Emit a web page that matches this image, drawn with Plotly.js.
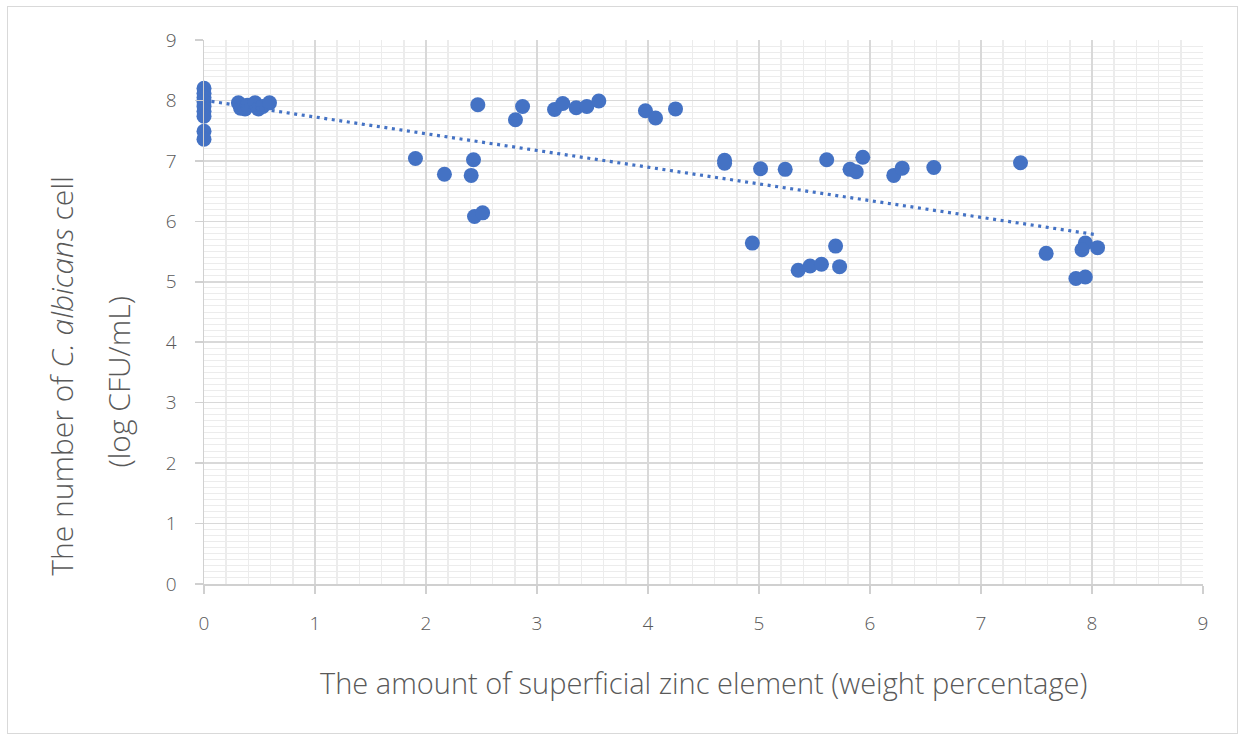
<!DOCTYPE html>
<html>
<head>
<meta charset="utf-8">
<script src="https://cdn.plot.ly/plotly-3.0.1.min.js"></script>
<style>
  html, body { margin: 0; padding: 0; background: #ffffff; }
  #wrap { position: relative; width: 1245px; height: 740px; }
  #chart { position: absolute; left: 0; top: 0; width: 1245px; height: 740px; }
  #frame { position: absolute; left: 7px; top: 6px; width: 1229px; height: 726px;
           border: 1px solid #d9d9d9; pointer-events: none; }
</style>
</head>
<body>
<div id="wrap">
  <div id="chart"></div>
  <div id="frame"></div>
</div>
<script>
// Superficial zinc content (wt %) of each specimen
const zincWt = [
  0, 0, 0, 0, 0, 0, 0, 0, 0,
  0.31, 0.33, 0.37, 0.39, 0.46, 0.49, 0.53, 0.59,
  1.905, 2.166, 2.428, 2.407, 2.437, 2.51,
  2.467, 2.806, 2.87, 3.158, 3.232, 3.353, 3.449, 3.557, 3.977, 4.068, 4.248,
  4.69, 4.69, 5.014, 5.236, 5.61, 5.82, 5.876, 5.935, 6.214, 6.29, 6.575, 7.356,
  4.94, 5.353, 5.46, 5.563, 5.69, 5.726,
  7.587, 7.94, 7.91, 8.05, 7.855, 7.94
];

// Viable C. albicans count on each specimen (log CFU/mL)
const logCfu = [
  8.2, 8.12, 8.05, 7.98, 7.9, 7.82, 7.74, 7.49, 7.36,
  7.96, 7.87, 7.86, 7.92, 7.96, 7.86, 7.9, 7.96,
  7.04, 6.78, 7.02, 6.76, 6.08, 6.14,
  7.93, 7.68, 7.90, 7.85, 7.95, 7.88, 7.90, 7.99, 7.83, 7.71, 7.86,
  7.01, 6.96, 6.87, 6.86, 7.02, 6.86, 6.82, 7.06, 6.76, 6.88, 6.89, 6.97,
  5.64, 5.19, 5.26, 5.29, 5.59, 5.25,
  5.47, 5.64, 5.53, 5.565, 5.055, 5.08
];

const xTicks = [0, 1, 2, 3, 4, 5, 6, 7, 8, 9];
const yTicks = [0, 1, 2, 3, 4, 5, 6, 7, 8, 9];

// Ordinary least-squares linear trend over the data
function linearFit(xs, ys) {
  const n = xs.length;
  let sx = 0, sy = 0, sxx = 0, sxy = 0;
  for (let i = 0; i < n; i++) {
    sx += xs[i]; sy += ys[i];
    sxx += xs[i] * xs[i]; sxy += xs[i] * ys[i];
  }
  const slope = (n * sxy - sx * sy) / (n * sxx - sx * sx);
  const intercept = (sy - slope * sx) / n;
  return { slope, intercept };
}
const fit = linearFit(zincWt, logCfu);
const xMin = Math.min(...zincWt), xMax = Math.max(...zincWt);
const trendX = [xMin, xMax];
const trendY = trendX.map(v => fit.intercept + fit.slope * v);

const blue = '#4472C4';
const textGrey = '#595959';
const fontFam = '"Open Sans", "Noto Sans", sans-serif';

const traces = [
  {
    type: 'scatter', mode: 'markers',
    x: zincWt, y: logCfu, cliponaxis: false,
    marker: { color: blue, size: 15, line: { width: 0 } },
    hoverinfo: 'x+y', showlegend: false
  },
  {
    type: 'scatter', mode: 'lines',
    x: trendX, y: trendY, cliponaxis: false,
    line: { color: blue, width: 3.2, dash: '3px,4.6px' },
    hoverinfo: 'skip', showlegend: false
  }
];

const axisCommon = {
  range: [0, 9],
  tickmode: 'array',
  showline: true, linecolor: '#d0d0d0', linewidth: 1.5,
  ticks: 'outside', ticklen: 8, tickwidth: 1.5, tickcolor: '#d0d0d0',
  showgrid: true, gridcolor: '#d9d9d9', gridwidth: 1.5,
  zeroline: false,
  tickfont: { family: fontFam, size: 19, color: textGrey, weight: 300 },
  fixedrange: true
};

const layout = {
  width: 1245, height: 740,
  paper_bgcolor: 'rgba(0,0,0,0)', plot_bgcolor: '#ffffff',
  margin: { l: 204, r: 42, t: 40, b: 155.5, pad: 0 },
  xaxis: Object.assign({}, axisCommon, {
    tickvals: xTicks, ticktext: xTicks.map(String),
    ticklabelstandoff: 14,
    minor: { dtick: 0.2, showgrid: true, gridcolor: '#ececec', gridwidth: 1.5, ticks: '' }
  }),
  yaxis: Object.assign({}, axisCommon, {
    tickvals: yTicks, ticktext: yTicks.map(String),
    ticklabelstandoff: 14,
    minor: { dtick: 0.1, showgrid: true, gridcolor: '#ececec', gridwidth: 1, ticks: '' }
  }),
  annotations: [
    {
      xref: 'paper', yref: 'paper', x: 0.4995, y: -0.181,
      xanchor: 'center', yanchor: 'middle', showarrow: false,
      text: 'The amount of superficial zinc element (weight percentage)',
      font: { family: fontFam, size: 29, color: textGrey, weight: 300 }
    },
    {
      xref: 'paper', yref: 'paper', x: -0.1421, y: 0.383,
      xanchor: 'center', yanchor: 'middle', showarrow: false, textangle: -90,
      text: 'The number of <i>C. albicans</i> cell',
      font: { family: fontFam, size: 30, color: textGrey, weight: 300 }
    },
    {
      xref: 'paper', yref: 'paper', x: -0.0851, y: 0.372,
      xanchor: 'center', yanchor: 'middle', showarrow: false, textangle: -90,
      text: '(log CFU/mL)',
      font: { family: fontFam, size: 30, color: textGrey, weight: 300 }
    }
  ]
};

Plotly.newPlot('chart', traces, layout, { staticPlot: true, displayModeBar: false });
</script>
</body>
</html>
